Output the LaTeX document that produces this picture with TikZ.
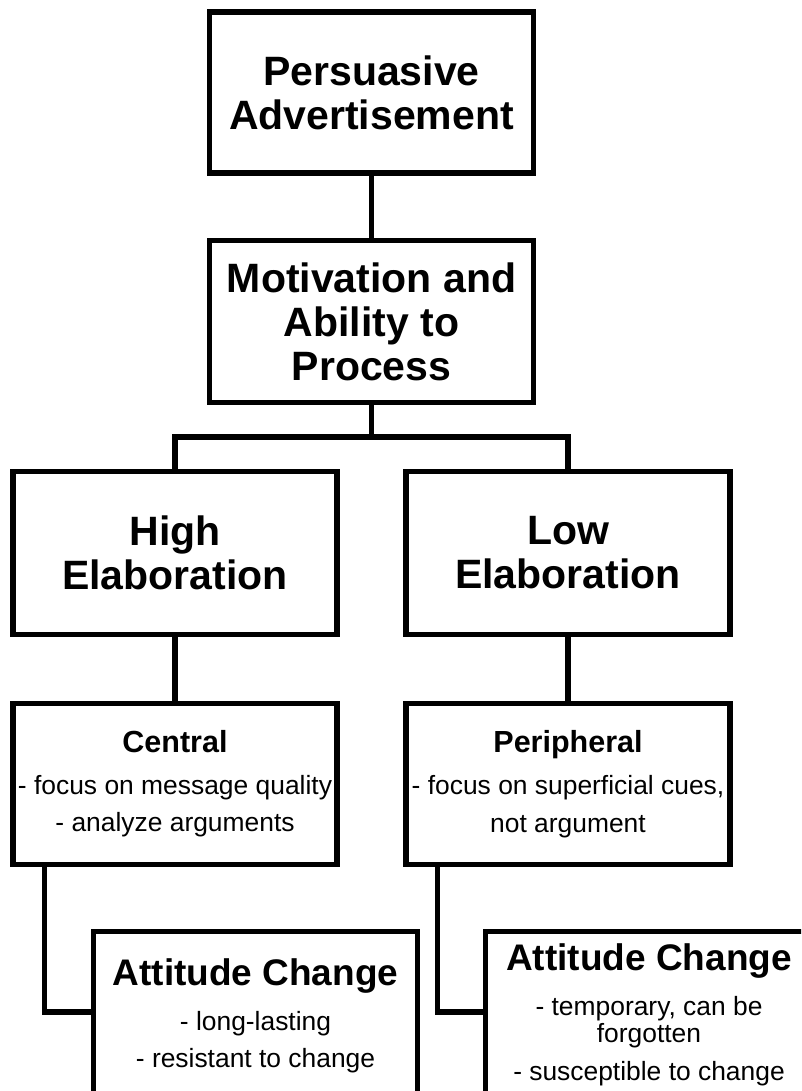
\documentclass[tikz,border=0pt]{standalone}
\usepackage{fontspec}
\setmainfont{Liberation Sans}
\newcommand\hdfont{\fontsize{30.5}{37}\selectfont\bfseries}
\newcommand\txfont{\fontsize{26.4}{37}\selectfont\mdseries}
\newcommand\atfont{\fontsize{37}{37}\selectfont\bfseries}
\tikzset{
  box/.style={draw, line width=5.3pt, inner sep=0pt, align=center, minimum width=324pt},
  big/.style={font=\bfseries\fontsize{41}{44}\selectfont},
  small/.style={font=\txfont},
  conn/.style={line width=5.3pt},
}
\begin{document}
\begin{tikzpicture}[x=1pt,y=-1pt]
\useasboundingbox (0,0) rectangle (801,1091);
\fill[white] (0,0) rectangle (801,1091);
\clip (0,0) rectangle (801,1091);
\node[box, big, minimum width=324pt, minimum height=161pt] (ad) at (371.5,92.5) {Persuasive\\Advertisement};
\node[box, big, minimum width=324pt, minimum height=162pt] (mot) at (371.5,321.5) {Motivation and\\Ability to\\Process};
\node[box, big, minimum height=163pt] (high) at (175,553) {High\\Elaboration};
\node[box, big, minimum height=163pt] (low) at (568,553) {Low\\Elaboration};
\node[box, small, minimum height=161pt] (cen) at (175,784) {{\hdfont Central}\\[5pt]- focus on message quality\\- analyze arguments};
\node[box, small, minimum height=161pt] (per) at (568,784) {{\hdfont Peripheral}\\[5pt]- focus on superficial cues,\\[1pt]not argument};
\node[box, small, minimum height=169pt] (att1) at (255.5,1016) {{\atfont Attitude Change}\\[8pt]- long-lasting\\- resistant to change};
\node[box, small, minimum width=327pt, minimum height=167pt] (att2) at (649,1015) {{\atfont Attitude Change}\\[8pt]- temporary, can be\\[-10pt]forgotten\\[1pt]- susceptible to change};
\coordinate (split) at (371.5,437);
\draw[conn] (ad.south) -- (mot.north);
\draw[conn] (mot.south) -- (split);
\draw[conn] (high.north) |- (split) -| (low.north);
\draw[conn] (high.south) -- (cen.north);
\draw[conn] (low.south) -- (per.north);
\draw[conn] ([xshift=34pt]cen.south west) |- ([yshift=-83pt]att1.north west);
\draw[conn] ([xshift=34pt]per.south west) |- ([yshift=-83pt]att2.north west);
\end{tikzpicture}
\end{document}
